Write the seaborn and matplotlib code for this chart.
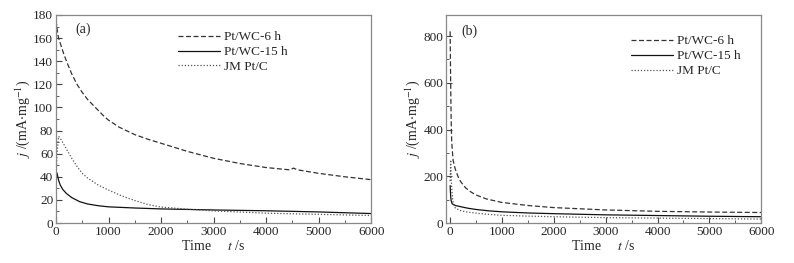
import numpy as np
import pandas as pd
import matplotlib
matplotlib.use("Agg")
import matplotlib.pyplot as plt
import seaborn as sns
from matplotlib.ticker import MultipleLocator

# Panel (a) readings
t_a_6h = [0, 10, 30, 50, 100, 150, 200, 300, 400, 500, 600, 750, 900, 1000, 1200, 1500,
          1750, 2000, 2500, 3000, 3500, 4000, 4450, 4520, 4600, 5000, 5500, 6000]
j_a_6h = [110, 172, 165, 160, 153, 146, 140, 129, 120, 113, 107, 100, 93, 89, 83, 76.5,
          72.5, 69, 62, 56, 51.5, 48, 46, 47.5, 46, 43, 40, 37.5]
t_a_15h = [0, 20, 50, 80, 130, 200, 300, 450, 600, 800, 1000, 1500, 2000, 3000, 4000, 5000, 6000]
j_a_15h = [45, 43, 37, 33, 29, 25.5, 22, 18.5, 16.5, 15, 14, 13, 12.2, 11.3, 10.6, 9.6, 8.2]
t_a_jm = [0, 20, 50, 100, 150, 200, 300, 400, 500, 600, 800, 1000, 1250, 1500, 1750, 2000,
          2500, 3000, 4000, 5000, 6000]
j_a_jm = [40, 60, 75, 72, 68, 64, 56, 49, 43, 39, 33, 28.5, 23.5, 19.5, 16, 13.8,
          12, 10.5, 8.5, 7.5, 6.5]

# Panel (b) readings
t_b_6h = [0, 10, 20, 30, 45, 60, 100, 150, 200, 300, 400, 500, 700, 1000, 1500, 2000,
          3000, 4000, 5000, 6000]
j_b_6h = [820, 600, 440, 350, 300, 265, 230, 200, 178, 150, 133, 120, 103, 88, 75, 66,
          56, 50, 47, 45]
t_b_15h = [0, 10, 20, 40, 100, 200, 350, 500, 750, 1000, 1500, 2000, 3000, 4000, 5000, 6000]
j_b_15h = [160, 115, 95, 82, 75, 70, 63, 58, 52, 48, 43, 40, 35, 32, 29, 27]
t_b_jm = [0, 10, 20, 30, 45, 60, 100, 200, 300, 500, 750, 1000, 1500, 2000, 3000, 4000, 5000, 6000]
j_b_jm = [180, 270, 200, 150, 110, 85, 64, 53, 48, 42, 37, 33, 29.5, 27, 23, 21, 19, 17]

samples = ["Pt/WC-6 h", "Pt/WC-15 h", "JM Pt/C"]

def frame(ts, js):
    rows = []
    for name, t, j in zip(samples, ts, js):
        rows.append(pd.DataFrame({"t": t, "j": j, "sample": name}))
    return pd.concat(rows, ignore_index=True)

df_a = frame([t_a_6h, t_a_15h, t_a_jm], [j_a_6h, j_a_15h, j_a_jm])
df_b = frame([t_b_6h, t_b_15h, t_b_jm], [j_b_6h, j_b_15h, j_b_jm])

sns.set_style("white")
plt.rcParams["font.family"] = ["Liberation Serif", "DejaVu Serif"]
plt.rcParams["mathtext.fontset"] = "stix"

fig = plt.figure(figsize=(7.94, 2.63), dpi=100)
ax_a = fig.add_axes([0.0705, 0.152, 0.397, 0.791])
ax_b = fig.add_axes([0.5617, 0.152, 0.397, 0.791])

dash_map = {"Pt/WC-6 h": (4, 2), "Pt/WC-15 h": "", "JM Pt/C": (1, 1.5)}
colors = {"Pt/WC-6 h": "#333333", "Pt/WC-15 h": "#111111", "JM Pt/C": "#555555"}

for ax, df, xlim, ylim, ymaj, ymin, lab, lpos in [
    (ax_a, df_a, (0, 6000), (0, 180), 20, 10, "(a)", (0.06, 0.93)),
    (ax_b, df_b, (-80, 6000), (0, 890), 200, 100, "(b)", (0.05, 0.92)),
]:
    sns.lineplot(data=df, x="t", y="j", hue="sample", style="sample",
                 dashes=dash_map, palette=colors, linewidth=0.9,
                 estimator=None, sort=False, ax=ax)
    ax.set_xlim(*xlim)
    ax.set_ylim(*ylim)
    ax.xaxis.set_major_locator(MultipleLocator(1000))
    ax.xaxis.set_minor_locator(MultipleLocator(500))
    ax.yaxis.set_major_locator(MultipleLocator(ymaj))
    ax.yaxis.set_minor_locator(MultipleLocator(ymin))
    ax.tick_params(axis="both", which="both", direction="in", labelsize=9.5,
                   bottom=True, left=True, top=False, right=False,
                   color="#444444", pad=2)
    ax.tick_params(which="major", length=4)
    ax.tick_params(which="minor", length=2)
    for sp in ax.spines.values():
        sp.set_color("#888888")
        sp.set_linewidth(0.9)
    ax.set_xlabel("Time     $t$ /s", fontsize=10, labelpad=1)
    ax.set_ylabel(r"$j$ /(mA$\cdot$mg$^{-1}$)", fontsize=10, labelpad=1)
    ax.text(lpos[0], lpos[1], lab, transform=ax.transAxes, fontsize=10,
            va="center", ha="left")
    leg = ax.legend(frameon=False, fontsize=9.5, handlelength=3.2,
                    handletextpad=0.3, labelspacing=0.2,
                    loc="upper left",
                    bbox_to_anchor=(0.35, 0.98) if lab == "(a)" else (0.55, 0.96))
    for h in leg.get_lines():
        h.set_linewidth(0.9)

fig.savefig("out.png", dpi=100)
